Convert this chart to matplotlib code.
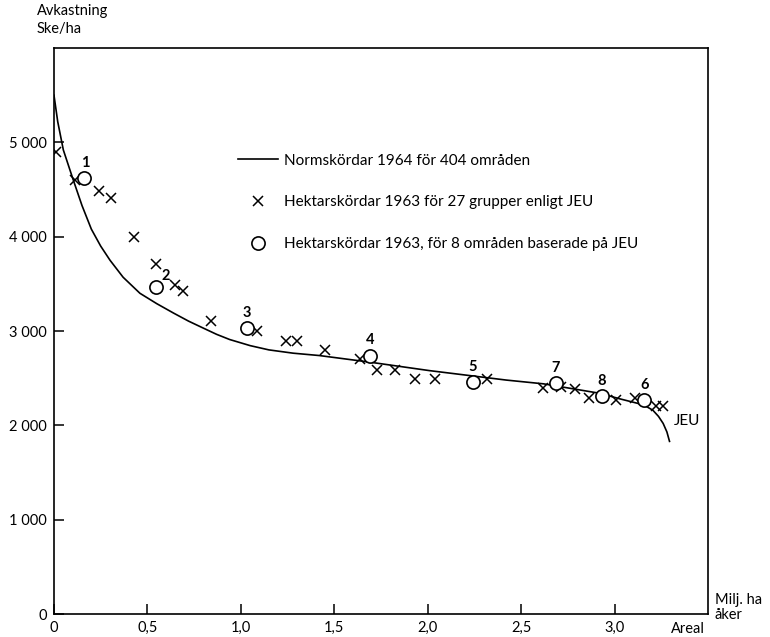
import matplotlib
matplotlib.use("Agg")
import matplotlib.pyplot as plt
from matplotlib.ticker import FuncFormatter

plt.rcParams['font.family'] = ['Lato', 'DejaVu Sans']

# Normskördar 1964 (curve)
norm_x = [0.0, 0.02, 0.05, 0.10, 0.15, 0.20, 0.25, 0.30, 0.37, 0.46, 0.55, 0.64,
          0.72, 0.80, 0.87, 0.94, 1.05, 1.15, 1.28, 1.42, 1.69, 2.01, 2.42, 2.62,
          2.92, 3.03, 3.13, 3.17, 3.205, 3.235, 3.26, 3.28, 3.294]
norm_y = [5500, 5220, 4920, 4620, 4330, 4080, 3900, 3750, 3570, 3400, 3290, 3190,
          3105, 3030, 2965, 2910, 2845, 2800, 2765, 2740, 2670, 2580, 2480, 2440,
          2340, 2280, 2230, 2200, 2160, 2095, 2020, 1930, 1830]

# Hektarskördar 1963, 27 grupper enligt JEU
jeu_x = [0.01, 0.112, 0.242, 0.305, 0.429, 0.544, 0.645, 0.688, 0.838, 1.087,
         1.244, 1.298, 1.453, 1.636, 1.726, 1.827, 1.930, 2.037, 2.317, 2.617,
         2.715, 2.786, 2.862, 3.005, 3.107, 3.223, 3.258]
jeu_y = [4900, 4600, 4480, 4410, 4000, 3710, 3490, 3420, 3110, 3000,
         2890, 2890, 2800, 2700, 2590, 2590, 2490, 2490, 2490, 2400,
         2410, 2390, 2290, 2270, 2290, 2200, 2200]

# Hektarskördar 1963, 8 områden
omr_x = [0.162, 0.545, 1.034, 1.690, 2.242, 2.684, 2.932, 3.160]
omr_y = [4620, 3470, 3030, 2740, 2460, 2450, 2310, 2270]
omr_lab = ['1', '2', '3', '4', '5', '7', '8', '6']

x_ticks = [0, 0.5, 1.0, 1.5, 2.0, 2.5, 3.0]
y_ticks = [0, 1000, 2000, 3000, 4000, 5000]

fig = plt.figure(figsize=(7.7, 6.37), dpi=100)
ax = fig.add_axes([0.0701, 0.0361, 0.8494, 0.8885])

ax.plot(norm_x, norm_y, color='black', lw=1.2,
        label='Normskördar 1964 för 404 områden')
ax.plot(jeu_x, jeu_y, ls='none', marker='x', ms=7.5, mew=1.1, color='black',
        label='Hektarskördar 1963 för 27 grupper enligt JEU')
ax.plot(omr_x, omr_y, ls='none', marker='o', ms=9.5, mew=1.2, mfc='white',
        mec='black', label='Hektarskördar 1963, för 8 områden baserade på JEU')

offsets = {'1': (1, 11), '2': (7, 8)}
for xv, yv, lab in zip(omr_x, omr_y, omr_lab):
    ax.annotate(lab, (xv, yv), xytext=offsets.get(lab, (0, 11)),
                textcoords='offset points', ha='center', va='center',
                fontsize=10.5, fontweight='bold')

ax.annotate('JEU', (norm_x[-1], norm_y[-1]), xytext=(3, 15),
            textcoords='offset points', ha='left', va='center', fontsize=11)

ax.set_xlim(0, 3.5)
ax.set_ylim(0, 6000)
ax.set_xticks(x_ticks)
ax.set_yticks(y_ticks)
ax.xaxis.set_major_formatter(FuncFormatter(
    lambda v, p: '0' if v == 0 else f'{v:.1f}'.replace('.', ',')))
ax.yaxis.set_major_formatter(FuncFormatter(
    lambda v, p: f'{int(v):,}'.replace(',', ' ')))
ax.tick_params(direction='in', length=7, width=1.1, labelsize=10.5, pad=5)
for s in ax.spines.values():
    s.set_linewidth(1.2)

ax.text(0.995, -0.027, 'Areal', transform=ax.transAxes, ha='right',
        va='center', fontsize=10.5)
ax.text(1.01, 0.012, 'Milj. ha\nåker', transform=ax.transAxes, ha='left',
        va='center', fontsize=10.5, linespacing=1.1)
fig.text(0.048, 0.993, 'Avkastning\nSke/ha', ha='left', va='top',
         fontsize=10.5, linespacing=1.3)

ax.legend(loc='upper left', bbox_to_anchor=(0.27, 0.827), frameon=False,
          handlelength=2.6, handletextpad=0.4, labelspacing=1.82, fontsize=11,
          borderpad=0)

fig.savefig('out.png', dpi=100)
